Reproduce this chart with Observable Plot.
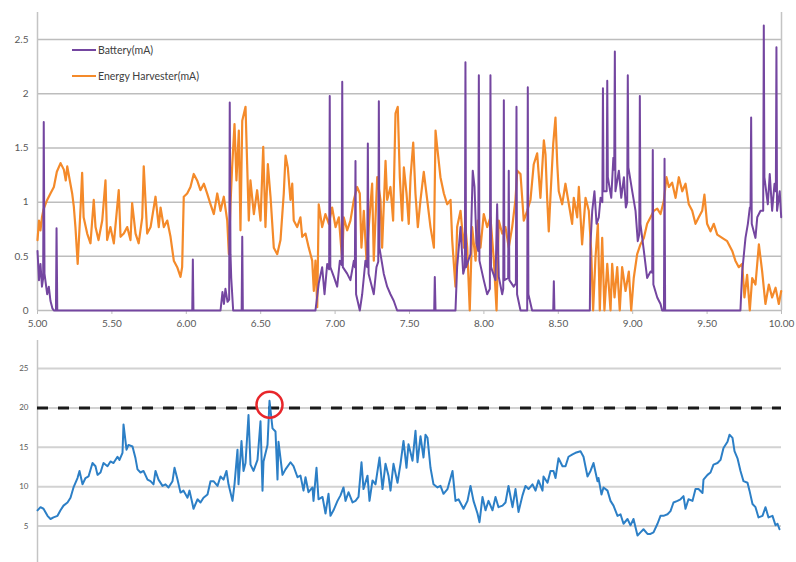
<!DOCTYPE html>
<html><head><meta charset="utf-8">
<script src="https://cdn.jsdelivr.net/npm/d3@7"></script>
<script src="https://cdn.jsdelivr.net/npm/@observablehq/plot@0.6"></script>
<style>
body{margin:0;background:#fff;font-family:Lato,"Open Sans",sans-serif;}
#wrap{position:relative;width:796px;height:562px;overflow:hidden;background:#fff}
#top,#bottom{display:block;line-height:0}
.lg{position:absolute;left:72px;font-size:10.5px;color:#404040;display:flex;align-items:center;height:12px;white-space:nowrap}
.lg .sw{display:inline-block;width:24px;height:2px;margin-right:2px}
</style>
</head><body>
<div id="wrap">
  <div id="top"></div>
  <div id="bottom"></div>
  <div class="lg" id="lg1" style="top:44px"></div>
  <div class="lg" id="lg2" style="top:70px"></div>
</div>
<script>
// ---------- data: top chart (time in x-axis units, current in mA) ----------
const seriesNames = ["Battery(mA)", "Energy Harvester(mA)"];
const xTicksTop = [5, 5.5, 6, 6.5, 7, 7.5, 8, 8.5, 9, 9.5, 10];
const yTicksTop = [0, 0.5, 1, 1.5, 2, 2.5];

const harvester = [
[5.00,0.65],[5.01,0.83],[5.02,0.74],[5.03,0.86],[5.04,0.93],[5.065,1.02],[5.087,1.08],[5.11,1.14],[5.13,1.28],[5.155,1.36],[5.177,1.30],[5.19,1.20],[5.20,1.33],[5.217,1.20],[5.233,1.08],[5.244,0.96],[5.255,0.77],[5.27,0.43],[5.29,0.96],[5.30,1.27],[5.31,0.86],[5.334,0.71],[5.356,0.62],[5.378,1.02],[5.39,0.77],[5.41,0.65],[5.435,0.83],[5.457,1.20],[5.468,0.65],[5.49,0.77],[5.513,0.62],[5.546,1.11],[5.558,0.68],[5.58,0.71],[5.603,0.77],[5.625,0.65],[5.636,0.99],[5.659,0.71],[5.68,0.62],[5.704,0.86],[5.714,1.33],[5.737,0.71],[5.76,0.77],[5.793,1.05],[5.815,0.77],
[5.827,0.95],[5.849,0.77],[5.872,0.83],[5.894,0.68],[5.916,0.46],[5.939,0.40],[5.961,0.31],[5.972,0.40],[5.983,1.05],[6.006,1.08],[6.028,1.14],[6.05,1.26],[6.073,1.20],[6.095,1.11],[6.118,1.17],[6.14,1.08],[6.163,0.98],[6.185,0.89],[6.208,1.08],[6.23,0.92],[6.252,1.05],[6.275,0.83],[6.286,0.52],[6.297,0.98],[6.308,1.32],[6.324,1.72],[6.337,1.20],[6.353,1.66],[6.364,0.74],[6.376,1.75],[6.398,1.88],[6.409,1.35],[6.42,0.83],[6.431,1.20],[6.454,0.89],[6.476,1.11],[6.499,0.83],[6.517,1.51],[6.532,0.77],[6.548,1.35],[6.566,1.05],[6.588,0.58],[6.611,0.52],[6.633,0.65],
[6.655,1.08],[6.667,1.43],[6.682,1.32],[6.70,1.02],[6.712,1.17],[6.722,0.83],[6.745,0.77],[6.767,0.86],[6.779,0.68],[6.801,0.71],[6.823,0.58],[6.846,0.46],[6.857,0.18],[6.868,0.46],[6.88,0.03],[6.89,0.98],[6.913,0.77],[6.935,0.89],[6.958,0.80],[6.98,0.95],[7.003,0.77],[7.025,0.86],[7.048,0.46],[7.058,0.86],[7.081,0.74],[7.103,0.83],[7.126,1.02],[7.148,1.14],[7.166,1.08],[7.177,0.58],[7.193,0.92],[7.211,0.46],[7.226,0.77],[7.249,1.17],[7.26,0.46],[7.283,1.23],[7.305,1.02],[7.316,0.58],[7.339,1.38],[7.35,1.02],[7.372,1.14],[7.39,0.83],[7.406,1.82],[7.421,1.88],[7.435,1.23],[7.451,0.83],[7.462,1.32],[7.48,1.08],[7.495,0.80],[7.507,1.23],[7.525,1.55],[7.54,1.08],[7.556,0.77],[7.574,1.02],[7.596,1.28],[7.619,1.02],[7.641,0.77],[7.664,0.58],[7.675,1.66],[7.686,1.51],[7.708,1.23],[7.731,1.08],[7.753,0.98],[7.776,1.02],[7.787,0.65],[7.798,0.43],[7.809,0.22],[7.82,0.77],[7.843,0.92],[7.865,0.58],[7.876,0.77],[7.888,0.58],[7.905,0],[7.921,0.77],[7.944,0.46],[7.959,0.83],[7.977,0.58],[7.999,0.89],[8.022,0.77],[8.044,0.86],[8.067,0.46],[8.085,0],[8.10,0.83],[8.123,0.71],[8.145,0.77],[8.167,0.58],[8.19,0.77],[8.212,1.02],[8.224,1.29],[8.246,1.26],[8.268,0.83],[8.291,0.92],[8.313,1.02],[8.335,1.35],[8.358,1.45],
[8.38,1.04],[8.392,1.32],[8.403,1.57],[8.414,1.44],[8.425,1.04],[8.436,0.73],[8.448,1.07],[8.466,1.54],[8.481,1.78],[8.493,1.35],[8.503,1.10],[8.526,0.98],[8.548,1.17],[8.571,0.98],[8.593,0.80],[8.604,1.04],[8.627,0.86],[8.638,1.14],[8.66,0.61],[8.683,1.04],[8.705,0.92],[8.721,0.55],[8.734,0],[8.75,0.49],[8.766,0.80],[8.779,0],[8.795,0.67],[8.81,0],[8.829,0.43],[8.851,0],[8.862,0.43],[8.878,0.12],[8.896,0.40],[8.913,0],[8.929,0.40],[8.952,0.18],[8.974,0.36],[8.99,0],[9.007,0.30],[9.03,0.52],[9.052,0.61],[9.075,0.67],[9.097,0.80],[9.12,0.86],[9.142,0.92],[9.165,0.94],[9.187,0.89],[9.209,1.01],[9.227,1.23],[9.243,1.14],[9.265,1.18],[9.288,1.04],[9.31,1.23],[9.333,1.10],[9.355,1.17],[9.377,0.98],[9.40,0.92],[9.422,0.80],[9.444,0.86],[9.467,0.92],[9.482,1.07],[9.50,0.80],[9.523,0.73],[9.545,0.80],[9.568,0.70],[9.601,0.67],[9.635,0.64],[9.669,0.55],[9.69,0.46],[9.713,0.40],[9.736,0.43],[9.751,0.12],[9.769,0.33],[9.787,0],[9.803,0.30],[9.825,0.24],[9.848,0.61],[9.87,0.36],[9.892,0.06],[9.915,0.24],[9.937,0.12],[9.96,0.21],[9.982,0.06],[9.998,0.18]
];

const battery = [
[5.00,0.55],[5.01,0.28],[5.02,0.43],[5.03,0.22],[5.038,0.30],[5.042,1.74],[5.047,0.34],[5.065,0.15],[5.076,0.22],[5.087,0.09],[5.10,0.02],[5.11,0],[5.124,0],[5.128,0.76],[5.133,0],[6.040,0],[6.044,0.47],[6.048,0],[6.23,0],[6.243,0.17],[6.253,0.06],[6.263,0.2],[6.277,0.08],[6.288,0.10],[6.292,1.92],[6.297,0.52],[6.302,0.30],[6.315,0],[6.372,0],[6.376,0.68],[6.380,0],
[6.868,0],[6.89,0.25],[6.913,0.40],[6.929,0.15],[6.947,0.43],[6.960,0.38],[6.964,1.98],[6.968,0.40],[6.992,0.31],[7.014,0.22],[7.032,0.46],[7.044,0.42],[7.048,2.11],[7.052,0.40],[7.081,0.34],[7.103,0.28],[7.126,0.46],[7.133,0.40],[7.137,1.38],[7.141,0.15],[7.166,0],[7.182,0.15],[7.204,0.46],[7.216,0.40],[7.22,1.54],[7.225,0.34],[7.26,0.15],[7.278,0.40],[7.290,0.45],[7.294,1.93],[7.298,0.58],[7.327,0.34],[7.35,0.22],[7.372,0.15],[7.394,0.09],[7.417,0],[7.666,0],[7.67,0.31],[7.675,0],
[7.809,0],[7.82,0.40],[7.843,0.77],[7.861,0.34],[7.872,0.40],[7.876,2.29],[7.880,0.40],[7.91,0.52],[7.925,1.29],[7.937,1.14],[7.95,0.62],[7.962,0.55],[7.966,2.17],[7.970,0.46],[7.999,0.28],[8.022,0.15],[8.040,0.20],[8.044,2.17],[8.048,0.40],[8.078,0.28],[8.089,0.98],[8.10,0.31],[8.123,0.15],[8.130,0.20],[8.134,1.94],[8.138,0.28],[8.163,0.30],[8.167,1.29],[8.171,0.28],[8.20,0.22],[8.215,0.25],[8.219,1.88],[8.223,0.15],[8.246,0],[8.291,0],[8.295,2.06],[8.299,0.15],[8.324,0],[8.466,0],[8.47,0.27],[8.474,0],
[8.712,0],[8.716,0.61],[8.728,0.92],[8.743,1.10],[8.757,0.80],[8.772,0.86],[8.784,1.04],[8.796,1.00],[8.80,2.05],[8.804,1.10],[8.825,1.10],[8.829,2.12],[8.833,1.23],[8.856,1.04],[8.87,1.41],[8.876,1.30],[8.88,2.39],[8.884,1.10],[8.907,1.29],[8.923,1.04],[8.941,1.23],[8.954,0.95],[8.963,1.00],[8.967,2.17],[8.971,1.32],[8.997,1.10],[9.019,0.92],[9.034,0.64],[9.044,0.70],[9.048,1.98],[9.052,0.80],[9.075,0.55],[9.097,0.30],[9.12,0.36],[9.131,0.35],[9.135,1.48],[9.139,0.24],[9.165,0.12],[9.187,0.06],[9.198,0],[9.210,0],[9.214,1.40],[9.218,0],
[9.724,0],[9.736,0.36],[9.758,0.67],[9.774,0.80],[9.787,0.95],[9.792,0.95],[9.796,1.78],[9.800,0.80],[9.825,0.67],[9.837,0.86],[9.859,0.92],[9.877,0.92],[9.881,2.63],[9.885,1.23],[9.908,0.98],[9.921,1.26],[9.937,0.92],[9.953,1.17],[9.962,1.10],[9.966,2.43],[9.970,0.92],[9.988,1.10],[9.998,0.86]
];

// ---------- data: bottom chart (sample position, value) ----------
const yTicksBottom = [0, 5, 10, 15, 20, 25];
const thresholdValue = 20;
const bottomT = [0,3,6,10,13,16,20,23,26,30,33,36,40,42,45,48,51,55,58,60,63,66,70,73,76,80,82,85,86,89,91,95,98,100,103,106,110,113,116,118,121,125,128,131,135,137,140,143,146,150,152,155,156,160,163,166,170,173,176,180,183,186,189,191,195,197,200,201,204,206,208,211,213,216,220,223,225,226,230,232,235,238,240,241,245,248,
253,256,260,263,266,268,271,275,276,279,281,285,288,291,293,296,300,303,306,308,311,315,318,321,324,326,330,332,335,338,342,345,348,351,353,356,360,363,366,369,371,375,378,380,383,386,388,390,393,396,400,403,406,410,415,418,421,426,430,433,436,440,442,445,448,451,455,458,461,465,468,471,475,478,481,485,488,491,495,498,501,
505,506,510,513,516,518,521,525,528,531,535,538,543,546,550,553,556,560,561,564,566,570,573,576,580,583,586,590,593,596,600,603,606,610,613,616,620,623,626,630,633,636,640,643,646,648,651,655,658,661,665,666,670,673,676,680,683,686,690,692,695,697,700,703,706,710,712,715,718,721,725,728,731,735,738,740,742];
const bottomV = [7.0,7.4,7.2,6.3,5.9,6.1,6.3,7.0,7.6,8.0,8.6,9.9,11.1,12.0,10.3,11.1,11.3,13.0,12.6,11.5,11.8,13.0,12.6,13.2,13.0,13.8,13.4,14.3,17.9,14.7,15.3,15.1,13.6,12.2,11.8,12.0,10.9,10.7,10.3,12.0,10.9,10.1,10.3,9.9,10.7,12.4,10.9,9.25,9.5,8.6,9.5,7.8,7.2,8.4,8.0,8.6,9.0,10.7,10.7,10.1,11.3,10.9,12.0,10.3,8.2,10.3,14.7,10.3,15.8,12.0,13.0,19.1,12.8,12.0,13.4,18.3,9.5,13.2,15.3,20.9,17.4,17.0,10.9,15.7,11.5,12.2,
13.1,12.6,11.2,11.4,9.5,11.2,9.3,9.9,8.2,12.4,8.4,8.7,6.6,9.1,6.3,7.0,8.2,8.9,9.9,8.2,9.3,8.0,8.2,8.7,13.1,9.7,11.4,8.2,10.8,10.3,13.7,9.7,12.9,11.4,9.5,12.9,10.5,12.9,15.8,12.4,15.4,13.3,17.1,13.1,16.4,13.7,16.6,16.2,12.4,10.3,9.9,10.1,9.1,9.7,12.0,8.2,8.4,7.2,8.2,10.1,8.2,6.6,5.5,8.7,7.0,8.2,7.0,8.7,7.4,7.6,8.0,10.1,7.4,9.7,6.8,8.9,10.1,9.7,10.3,9.5,10.8,
9.5,11.3,10.5,12.0,12.0,11.1,13.6,12.6,12.6,13.8,14.1,14.3,14.5,13.8,11.3,12.0,13.0,10.7,11.1,9.0,9.9,9.5,8.2,7.6,6.3,6.5,5.3,5.9,5.1,5.9,3.8,4.2,4.6,4.0,4.0,4.2,5.3,6.3,6.3,6.5,6.9,8.0,8.2,8.4,8.8,7.2,8.4,8.2,9.7,9.7,9.2,10.9,11.5,11.8,12.8,13.0,13.4,14.9,15.7,16.6,16.2,14.5,13.6,12.0,10.7,10.5,9.5,7.8,7.4,6.1,6.3,7.4,6.1,6.3,5.1,5.3,4.6];

const colors = {battery:"#7446a0", harvester:"#f48a2a", bottom:"#2c7fc6"};

// ---------- legend ----------
document.getElementById("lg1").innerHTML = `<span class="sw" style="background:${colors.battery}"></span>${seriesNames[0]}`;
document.getElementById("lg2").innerHTML = `<span class="sw" style="background:${colors.harvester}"></span>${seriesNames[1]}`;

// ---------- top chart ----------
const topPlot = Plot.plot({
  width: 796, height: 340,
  marginLeft: 37, marginRight: 15, marginTop: 12, marginBottom: 30,
  style: {fontFamily: "Lato, 'Open Sans', sans-serif", fontSize: "10px", color: "#595959", background: "transparent"},
  x: {domain: [5, 10]},
  y: {domain: [0, 2.75]},
  marks: [
    Plot.gridY(yTicksTop.slice(1), {stroke: "#bdbdbd", strokeOpacity: 1, strokeWidth: 1.5}),
    Plot.ruleX([5, 10], {stroke: "#c4c4c4", strokeWidth: 1.5}),
    Plot.ruleY([0], {stroke: "#bdbdbd", strokeWidth: 1.5}),
    Plot.axisX(xTicksTop, {tickSize: 4, tickPadding: 5, tickFormat: d => d.toFixed(2), stroke: "#bdbdbd", fill: "#595959", label: null}),
    Plot.axisY(yTicksTop, {tickSize: 0, tickPadding: 9, tickFormat: d => String(d), fill: "#595959", label: null}),
    Plot.line(harvester, {x: d => d[0], y: d => d[1], stroke: colors.harvester, strokeWidth: 2.2}),
    Plot.line(battery, {x: d => d[0], y: d => d[1], stroke: colors.battery, strokeWidth: 2})
  ]
});
document.getElementById("top").appendChild(topPlot);

// ---------- bottom chart ----------
const bottomData = bottomT.map((t, i) => ({t, v: bottomV[i]}));
const peak = d3.greatest(bottomData, d => d.v);
const bottomPlot = Plot.plot({
  width: 796, height: 222,
  marginLeft: 37, marginRight: 15, marginTop: 0, marginBottom: 0,
  style: {fontFamily: "Lato, 'Open Sans', sans-serif", fontSize: "8px", color: "#595959", background: "transparent"},
  x: {domain: [0, 744], axis: null},
  y: {domain: [0, 28.55], range: [225, 0], axis: null},
  marks: [
    Plot.gridY(yTicksBottom.slice(1), {stroke: "#d2d2d2", strokeOpacity: 1, strokeWidth: 2}),
    Plot.ruleX([0], {stroke: "#c4c4c4", strokeWidth: 1.5}),
    Plot.axisY(yTicksBottom.slice(1), {tickSize: 0, tickPadding: 9, fill: "#595959", label: null}),
    Plot.ruleY([thresholdValue], {stroke: "#1a1a1a", strokeWidth: 3, strokeDasharray: "11,10"}),
    Plot.line(bottomData, {x: "t", y: "v", stroke: colors.bottom, strokeWidth: 2}),
    Plot.dot([peak], {x: "t", y: "v", r: 13, dy: 4, stroke: "#e8262a", strokeWidth: 2.5, fill: "none"})
  ]
});
document.getElementById("bottom").appendChild(bottomPlot);
</script>
</body></html>
